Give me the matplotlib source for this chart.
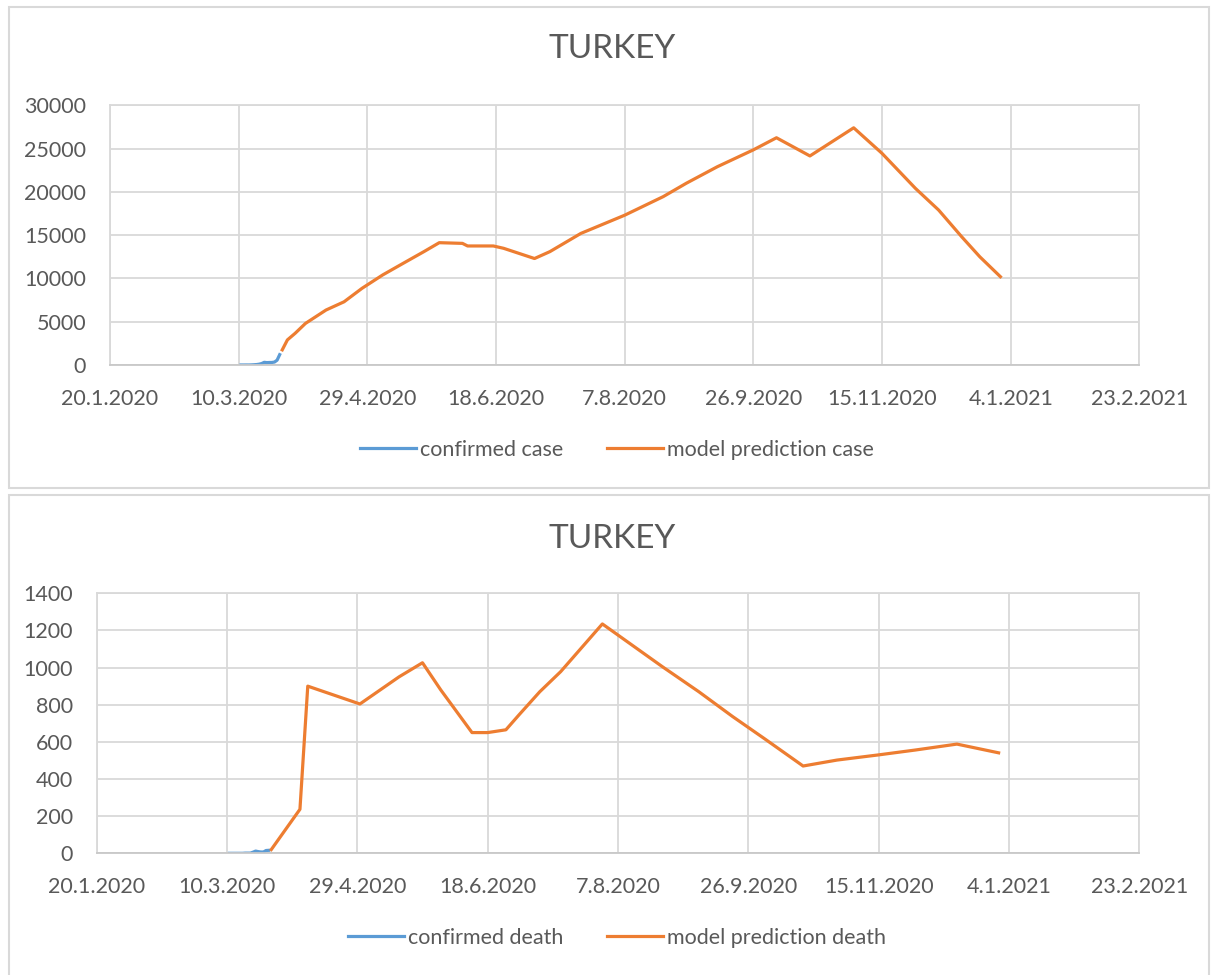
import pandas as pd
import matplotlib
matplotlib.use("Agg")
import matplotlib.pyplot as plt
import matplotlib.dates as mdates
from matplotlib.patches import Rectangle
from matplotlib.ticker import FuncFormatter, MultipleLocator

plt.rcParams["font.family"] = ["Lato", "DejaVu Sans"]

BLUE = "#5B9BD5"
ORANGE = "#ED7D31"
GREY_TXT = "#595959"
GRID = "#d9d9d9"

# confirmed (blue) daily values, 11-26 March 2020
confirmed_dates = pd.date_range("2020-03-11", "2020-03-26", freq="D")
confirmed_case = [1, 0, 4, 1, 12, 29, 51, 93, 168, 311, 277, 289, 293, 343, 561, 1196]
confirmed_death = [0, 0, 0, 0, 0, 0, 1, 1, 1, 6, 12, 9, 7, 7, 15, 16]

# model prediction
case_dates = ["2020-03-27", "2020-03-29", "2020-04-01", "2020-04-05", "2020-04-13",
              "2020-04-20", "2020-04-27", "2020-05-05", "2020-05-13", "2020-05-21",
              "2020-05-27", "2020-06-05", "2020-06-07", "2020-06-17", "2020-06-21",
              "2020-07-03", "2020-07-09", "2020-07-21", "2020-08-07", "2020-08-22",
              "2020-08-31", "2020-09-12", "2020-09-26", "2020-10-05", "2020-10-18",
              "2020-11-04", "2020-11-15", "2020-11-28", "2020-12-07", "2020-12-16",
              "2020-12-23", "2020-12-31"]
case_pred = [1750, 2900, 3660, 4800, 6350,
             7300, 8860, 10400, 11750, 13090,
             14130, 14050, 13750, 13750, 13480,
             12300, 13100, 15200, 17300, 19450,
             21000, 22900, 24850, 26250, 24150,
             27400, 24450, 20400, 17900, 14800,
             12500, 10200]

death_dates = ["2020-03-27", "2020-04-07", "2020-04-10", "2020-04-30", "2020-05-15",
               "2020-05-24", "2020-05-31", "2020-06-12", "2020-06-18", "2020-06-25",
               "2020-06-30", "2020-07-08", "2020-07-16", "2020-08-01", "2020-08-24",
               "2020-09-07", "2020-09-20", "2020-10-02", "2020-10-17", "2020-10-30",
               "2020-11-15", "2020-11-29", "2020-12-15", "2020-12-31"]
death_pred = [20, 237, 900, 804, 950,
              1026, 880, 650, 650, 665,
              745, 870, 978, 1235, 1005,
              870, 736, 619, 470, 502,
              530, 556, 588, 541]

W, H = 1212, 975
fig = plt.figure(figsize=(W / 100, H / 100), dpi=100)

# chart frames
fig.patches.append(Rectangle((8.5 / W, 1 - 488 / H), (1209 - 8.5) / W, (488 - 7) / H,
                             transform=fig.transFigure, fill=False, edgecolor=GRID, lw=1.5))
fig.patches.append(Rectangle((8.5 / W, -0.05), (1209 - 8.5) / W, 0.05 + 1 - 495 / H,
                             transform=fig.transFigure, fill=False, edgecolor=GRID, lw=1.5))

FS = 15.5


def style(ax, ymax, ystep):
    ax.set_xlim(pd.Timestamp("2020-01-20"), pd.Timestamp("2021-02-23"))
    ax.set_ylim(0, ymax)
    ticks = pd.date_range("2020-01-20", "2021-02-23", freq="50D")
    ax.set_xticks(ticks)
    ax.xaxis.set_major_formatter(FuncFormatter(
        lambda v, p: (lambda d: f"{d.day}.{d.month}.{d.year}")(mdates.num2date(v))))
    ax.yaxis.set_major_locator(MultipleLocator(ystep))
    ax.grid(True, color=GRID, lw=1.3)
    ax.set_axisbelow(True)
    for s in ax.spines.values():
        s.set_color(GRID)
        s.set_linewidth(1.3)
    ax.spines["bottom"].set_color("#c8c8c8")
    ax.tick_params(length=0, labelsize=FS, colors=GREY_TXT)
    ax.tick_params(axis="x", pad=17)
    ax.tick_params(axis="y", pad=17)


def add_legend(ax, y_px):
    fig.legend(*ax.get_legend_handles_labels(), loc="center", bbox_to_anchor=(617 / W, 1 - y_px / H),
               ncol=2, frameon=False, fontsize=FS, handlelength=2.6, handletextpad=0.2,
               columnspacing=2.0, labelcolor=GREY_TXT)


# top: cases
ax1 = fig.add_axes([109.8 / W, 1 - 365 / H, (1139.4 - 109.8) / W, (365 - 105.3) / H])
ax1.plot(confirmed_dates, confirmed_case, color=BLUE, lw=2.3, label="confirmed case")
ax1.plot(pd.to_datetime(case_dates), case_pred, color=ORANGE, lw=2.3, label="model prediction case")
style(ax1, 30000, 5000)
fig.text(612 / W, 1 - 49 / H, "TURKEY", ha="center", va="center", fontsize=24, color=GREY_TXT)
add_legend(ax1, 450)

# bottom: deaths
ax2 = fig.add_axes([96.6 / W, 1 - 853.3 / H, (1139.4 - 96.6) / W, (853.3 - 593.3) / H])
ax2.plot(confirmed_dates, confirmed_death, color=BLUE, lw=2.3, label="confirmed death")
ax2.plot(pd.to_datetime(death_dates), death_pred, color=ORANGE, lw=2.3, label="model prediction death")
style(ax2, 1400, 200)
fig.text(612 / W, 1 - 539 / H, "TURKEY", ha="center", va="center", fontsize=24, color=GREY_TXT)
add_legend(ax2, 938)

fig.savefig("out.png", dpi=100, facecolor="white")
